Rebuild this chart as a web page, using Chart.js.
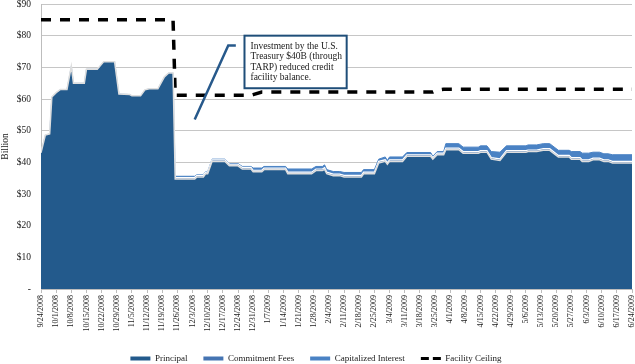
<!DOCTYPE html>
<html>
<head>
<meta charset="utf-8">
<title>Credit facility balance</title>
<script src="https://cdn.jsdelivr.net/npm/chart.js"></script>
<style>
  body { margin: 0; background: #fff; }
  #wrap { width: 635px; height: 364px; }
</style>
</head>
<body>
<div id="wrap"><canvas id="facilityChart" width="635" height="364"></canvas></div>
<script>
// dates where the balance changes
const sampleDates = [
    '9/24/2008', '9/26/2008', '9/28/2008', '9/29/2008', '10/1/2008', '10/3/2008', '10/6/2008', '10/8/2008',
    '10/9/2008', '10/14/2008', '10/15/2008', '10/20/2008', '10/23/2008', '10/28/2008', '10/30/2008', '11/4/2008',
    '11/5/2008', '11/9/2008', '11/11/2008', '11/13/2008', '11/17/2008', '11/20/2008', '11/22/2008', '11/24/2008',
    '11/25/2008', '12/4/2008', '12/5/2008', '12/8/2008', '12/9/2008', '12/10/2008', '12/12/2008', '12/18/2008',
    '12/20/2008', '12/24/2008', '12/26/2008', '12/30/2008', '12/31/2008', '1/4/2009', '1/5/2009', '1/15/2009',
    '1/16/2009', '1/27/2009', '1/29/2009', '2/1/2009', '2/2/2009', '2/3/2009', '2/6/2009', '2/9/2009',
    '2/11/2009', '2/19/2009', '2/20/2009', '2/25/2009', '2/27/2009', '3/2/2009', '3/3/2009', '3/4/2009',
    '3/10/2009', '3/12/2009', '3/23/2009', '3/24/2009', '3/26/2009', '3/29/2009', '3/30/2009', '4/5/2009',
    '4/7/2009', '4/14/2009', '4/15/2009', '4/18/2009', '4/20/2009', '4/24/2009', '4/27/2009', '5/6/2009',
    '5/7/2009', '5/11/2009', '5/14/2009', '5/17/2009', '5/21/2009', '5/26/2009', '5/27/2009', '5/31/2009',
    '6/1/2009', '6/4/2009', '6/6/2009', '6/9/2009', '6/11/2009', '6/13/2009', '6/15/2009', '6/24/2009'
];

const principal = [
    43.0, 48.6, 49.0, 60.6, 62.0, 63.0, 63.0, 70.3,
    65.0, 65.0, 69.4, 69.4, 71.8, 71.8, 61.6, 61.4,
    61.0, 61.0, 62.9, 63.2, 63.2, 67.0, 68.2, 68.2,
    34.7, 34.7, 35.4, 35.4, 36.4, 36.4, 40.3, 40.3,
    38.9, 38.9, 37.9, 37.9, 37.0, 37.0, 37.7, 37.7,
    36.4, 36.4, 37.4, 37.4, 37.8, 36.4, 35.8, 35.8,
    35.4, 35.4, 36.4, 36.4, 39.8, 40.3, 39.4, 40.3,
    40.3, 41.9, 41.9, 41.0, 42.4, 42.4, 44.0, 44.0,
    42.9, 42.9, 43.2, 43.2, 41.0, 40.6, 43.2, 43.2,
    43.4, 43.4, 43.8, 43.8, 41.7, 41.7, 41.0, 41.0,
    40.3, 40.3, 40.8, 40.8, 40.3, 40.3, 39.8, 39.8
];

const commitmentFees = [
    0, 0, 0, 0, 0, 0, 0, 0,
    0, 0, 0, 0, 0, 0, 0, 0,
    0, 0, 0, 0, 0, 0, 0, 0,
    0.5, 0.5, 0.5, 0.5, 0.5, 0.5, 0.5, 0.5,
    0.5, 0.5, 0.5, 0.5, 0.5, 0.5, 0.5, 0.5,
    0.5, 0.5, 0.5, 0.5, 0.5, 0.5, 0.5, 0.5,
    0.5, 0.5, 0.5, 0.5, 0.5, 0.5, 0.5, 0.5,
    0.5, 0.5, 0.5, 0.5, 0.5, 0.5, 0.5, 0.5,
    0.5, 0.5, 0.5, 0.5, 0.5, 0.5, 0.5, 0.5,
    0.5, 0.5, 0.5, 0.5, 0.5, 0.5, 0.5, 0.5,
    0.5, 0.5, 0.5, 0.5, 0.5, 0.5, 0.5, 0.5
];

const capitalizedInterest = [
    0, 0, 0, 0, 0, 0, 0, 0,
    0, 0, 0, 0, 0, 0, 0, 0,
    0, 0, 0, 0, 0, 0, 0, 0,
    0.4, 0.4, 0.2, 0.2, 0.2, 0.2, 0.2, 0.2,
    0.2, 0.2, 0.3, 0.3, 0.7, 0.7, 0.5, 0.5,
    1.0, 1.0, 0.8, 0.8, 0.9, 0.8, 0.8, 0.8,
    0.9, 0.9, 0.8, 0.8, 0.7, 0.9, 0.7, 0.9,
    0.9, 0.7, 0.7, 0.4, 0.5, 0.5, 1.4, 1.4,
    1.4, 1.4, 1.5, 1.5, 1.9, 2.1, 1.5, 1.5,
    1.6, 1.6, 1.6, 1.6, 1.6, 1.6, 1.9, 1.9,
    2.1, 2.1, 1.9, 1.9, 1.9, 1.9, 2.1, 2.1
];

const facilityCeiling = [
    85, 85, 85, 85, 85, 85, 85, 85,
    85, 85, 85, 85, 85, 85, 85, 85,
    85, 85, 85, 85, 85, 85, 85, 85,
    61.2, 61.2, 61.2, 61.2, 61.2, 61.2, 61.2, 61.2,
    61.2, 61.2, 61.2, 61.2, 61.4, 62.2, 62.2, 62.2,
    62.2, 62.2, 62.2, 62.2, 62.2, 62.2, 62.2, 62.2,
    62.2, 62.2, 62.2, 62.2, 62.2, 62.2, 62.2, 62.2,
    62.2, 62.2, 62.2, 62.2, 62.8, 63.1, 63.1, 63.1,
    63.1, 63.1, 63.1, 63.1, 63.1, 63.1, 63.1, 63.1,
    63.1, 63.1, 63.1, 63.1, 63.1, 63.1, 63.1, 63.1,
    63.1, 63.1, 63.1, 63.1, 63.1, 63.1, 63.1, 63.1
];

// one label per week on the x axis
const weekLabels = [
    '9/24/2008', '10/1/2008', '10/8/2008', '10/15/2008', '10/22/2008', '10/29/2008', '11/5/2008', '11/12/2008',
    '11/19/2008', '11/26/2008', '12/3/2008', '12/10/2008', '12/17/2008', '12/24/2008', '12/31/2008', '1/7/2009',
    '1/14/2009', '1/21/2009', '1/28/2009', '2/4/2009', '2/11/2009', '2/18/2009', '2/25/2009', '3/4/2009',
    '3/11/2009', '3/18/2009', '3/25/2009', '4/1/2009', '4/8/2009', '4/15/2009', '4/22/2009', '4/29/2009',
    '5/6/2009', '5/13/2009', '5/20/2009', '5/27/2009', '6/3/2009', '6/10/2009', '6/17/2009', '6/24/2009'
];

const calloutLines = [
    'Investment by the U.S.',
    'Treasury $40B (through',
    'TARP) reduced credit',
    'facility balance.'
];

const serif = '"Liberation Serif", "DejaVu Serif", serif';

function dayNumber(str) {
    let [m, d, y] = str.split('/').map(Number);
    return Date.UTC(y, m - 1, d) / 86400000;
}

let startDay = dayNumber(sampleDates[0]);
let days = sampleDates.map(s => dayNumber(s) - startDay);
let toPoints = values => values.map((v, i) => ({ x: days[i], y: v }));

// text box + leader line, placed in data units (days, $B)
const calloutBox = {
    id: 'calloutBox',
    afterDatasetsDraw(chart) {
        let { ctx, scales: { x, y } } = chart;
        ctx.save();

        ctx.strokeStyle = '#27598B';
        ctx.lineWidth = 2.5;
        ctx.beginPath();
        ctx.moveTo(x.getPixelForValue(71), y.getPixelForValue(53.5));
        ctx.lineTo(x.getPixelForValue(86.5), y.getPixelForValue(76.9));
        ctx.lineTo(x.getPixelForValue(90), y.getPixelForValue(76.9));
        ctx.stroke();

        let left = x.getPixelForValue(94);
        let right = x.getPixelForValue(141.2);
        let top = y.getPixelForValue(80);
        let bottom = y.getPixelForValue(63.4);
        ctx.fillStyle = '#fff';
        ctx.fillRect(left, top, right - left, bottom - top);
        ctx.strokeStyle = '#1F4E79';
        ctx.lineWidth = 2;
        ctx.strokeRect(left, top, right - left, bottom - top);

        ctx.fillStyle = '#1a1a1a';
        ctx.font = '9.5px ' + serif;
        ctx.textBaseline = 'middle';
        calloutLines.forEach((line, i) => {
            ctx.fillText(line, left + 6, top + 11 + i * 10.3);
        });
        ctx.restore();
    }
};

let ctx = document.getElementById('facilityChart').getContext('2d');

let chart = new Chart(ctx, {
    type: 'line',
    data: {
        datasets: [{
            label: 'Principal',
            data: toPoints(principal),
            backgroundColor: '#235A8C',
            borderColor: '#dedede',
            borderWidth: 1.5,
            fill: 'origin',
            stack: 'balance'
        }, {
            label: 'Commitment Fees',
            data: toPoints(commitmentFees),
            backgroundColor: '#4574B2',
            borderColor: '#ffffff',
            borderWidth: 1.2,
            fill: '-1',
            stack: 'balance'
        }, {
            label: 'Capitalized Interest',
            data: toPoints(capitalizedInterest),
            backgroundColor: '#4A82C4',
            borderColor: '#4A82C4',
            borderWidth: 1,
            fill: '-1',
            stack: 'balance'
        }, {
            label: 'Facility Ceiling',
            data: toPoints(facilityCeiling),
            borderColor: '#000',
            backgroundColor: '#000',
            borderWidth: 3.5,
            borderDash: [10, 9],
            fill: false,
            stack: 'ceiling'
        }]
    },
    options: {
        responsive: false,
        animation: false,
        devicePixelRatio: 1,
        layout: { padding: { left: 0, right: 3, top: 4, bottom: -9 } },
        elements: {
            point: { radius: 0, hoverRadius: 0 },
            line: { tension: 0 }
        },
        scales: {
            x: {
                type: 'linear',
                min: 0,
                max: (weekLabels.length - 1) * 7,
                afterFit: s => {
                    s.height = 49;
                    s.paddingLeft = 0;
                    s.paddingRight = 0;
                },
                grid: { drawOnChartArea: false, tickLength: 4, color: '#bdbdbd' },
                border: { color: '#bdbdbd' },
                ticks: {
                    stepSize: 7,
                    autoSkip: false,
                    minRotation: 90,
                    maxRotation: 90,
                    padding: 2,
                    color: '#1a1a1a',
                    font: { family: serif, size: 8 },
                    callback: v => weekLabels[Math.round(v / 7)]
                }
            },
            y: {
                stacked: true,
                min: 0,
                max: 90,
                afterFit: s => {
                    s.width = 41;
                    s.paddingTop = 0;
                    s.paddingBottom = 0;
                },
                grid: { color: '#c6c6c6', drawTicks: false },
                border: { color: '#bdbdbd' },
                title: {
                    display: true,
                    text: 'Billion',
                    color: '#1a1a1a',
                    padding: 0,
                    font: { family: serif, size: 9.5 }
                },
                ticks: {
                    stepSize: 10,
                    padding: 10,
                    color: '#1a1a1a',
                    font: { family: serif, size: 9.5 },
                    callback: v => v === 0 ? '-' : '$' + v
                }
            }
        },
        plugins: {
            tooltip: { enabled: false },
            legend: {
                position: 'bottom',
                labels: {
                    usePointStyle: true,
                    pointStyleWidth: 20,
                    padding: 16,
                    color: '#1a1a1a',
                    font: { family: serif, size: 9 },
                    generateLabels(chart) {
                        let items = Chart.defaults.plugins.legend.labels.generateLabels(chart);
                        items.forEach(item => {
                            let ds = chart.data.datasets[item.datasetIndex];
                            item.pointStyle = 'line';
                            if (ds.fill === false) {
                                item.strokeStyle = '#000';
                                item.lineWidth = 3;
                                item.lineDash = [8, 4];
                            } else {
                                item.strokeStyle = ds.backgroundColor;
                                item.lineWidth = 4;
                                item.lineDash = [];
                            }
                        });
                        return items;
                    }
                }
            }
        }
    },
    plugins: [calloutBox]
});
</script>
</body>
</html>
